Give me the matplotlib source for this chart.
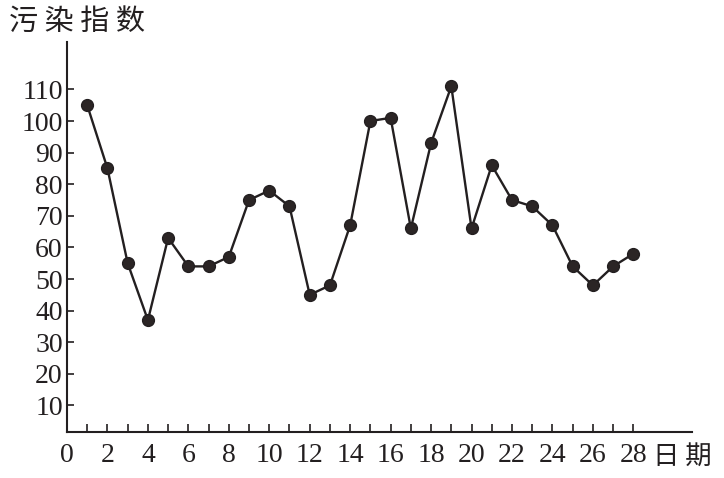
import matplotlib
matplotlib.use("Agg")
import matplotlib.pyplot as plt

days = list(range(1, 29))
values = [105, 85, 55, 37, 63, 54, 54, 57, 75, 78, 73, 45, 48, 67,
          100, 101, 66, 93, 111, 66, 86, 75, 73, 67, 54, 48, 54, 58]
xtick_values = list(range(0, 29, 2))
xtick_labels = [str(v) for v in xtick_values]
minor_xticks = list(range(1, 28, 2))
ytick_values = list(range(10, 111, 10))
ylabel_text = "污 染 指 数"
xlabel_text = "日 期"

plt.rcParams['font.family'] = ['Liberation Serif', 'Noto Sans CJK SC']

fig = plt.figure(figsize=(7.24, 4.78), dpi=100)
ax = fig.add_axes([67/724, 46/478, 625/724, 390/478])

ink = '#231f20'
ax.plot(days, values, color=ink, lw=1.7, marker='o', markersize=8.5,
        markerfacecolor='#2b2525', markeredgecolor=ink, zorder=3)

ax.set_xlim(0, 30.9)
ax.set_ylim(1.6, 125)

ax.set_xticks(xtick_values)
ax.set_xticklabels(xtick_labels)
ax.set_xticks(minor_xticks, minor=True)
ax.set_yticks(ytick_values)
ax.set_yticklabels([str(v) for v in ytick_values])

for s in ['top', 'right']:
    ax.spines[s].set_visible(False)
for s in ['left', 'bottom']:
    ax.spines[s].set_linewidth(1.5)
    ax.spines[s].set_color(ink)

ax.tick_params(axis='both', which='both', direction='in', colors=ink,
               width=1.2, labelsize=20)
ax.tick_params(axis='x', which='major', length=6, pad=8)
ax.tick_params(axis='x', which='minor', length=6)
ax.tick_params(axis='y', which='major', length=5, pad=3)
for lab in ax.get_xticklabels() + ax.get_yticklabels():
    lab.set_family('Liberation Serif')

fig.text(9/724, 1 - 22/478, ylabel_text, family=['Noto Sans CJK SC'],
         fontsize=21, ha='left', va='center', color=ink)
fig.text(653/724, 1 - 456/478, xlabel_text, family=['Noto Sans CJK SC'],
         fontsize=19, ha='left', va='center', color=ink)

fig.savefig("out.png", dpi=100, facecolor='white')
